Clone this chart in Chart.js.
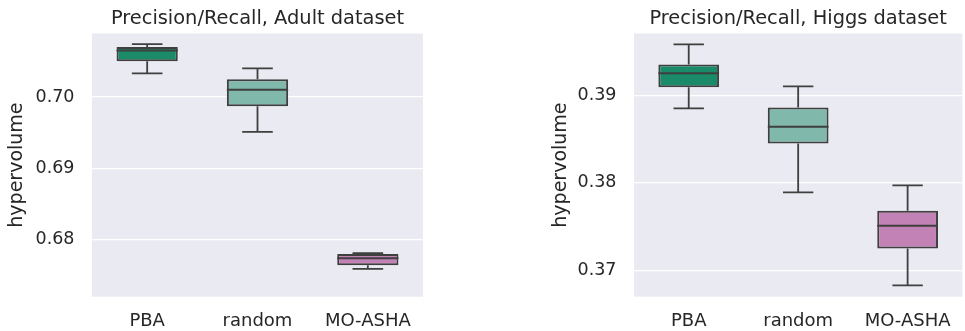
<!DOCTYPE html>
<html>
<head>
<meta charset="utf-8">
<script src="https://cdn.jsdelivr.net/npm/chart.js@4"></script>
<style>
  body { margin: 0; background: #ffffff; }
  #wrap { position: relative; width: 965px; height: 331px; }
  canvas { position: absolute; top: 0; }
  #adultChart { left: 0; }
  #higgsChart { left: 542px; }
</style>
</head>
<body>
<div id="wrap">
  <canvas id="adultChart" width="430" height="331"></canvas>
  <canvas id="higgsChart" width="423" height="331"></canvas>
</div>
<script>
const categories = ['PBA', 'random', 'MO-ASHA'];
const boxColors = ['#1a8a68', '#80b9ab', '#c282b5'];

// Adult dataset: whisker ends, quartiles and medians
const adultLow = [0.7033, 0.6951, 0.6759];
const adultQ1 = [0.7050, 0.6987, 0.6764];
const adultMedian = [0.7065, 0.7010, 0.6774];
const adultQ3 = [0.7070, 0.7025, 0.6780];
const adultHigh = [0.7074, 0.7040, 0.6781];
const adultTicks = [0.68, 0.69, 0.70];
const adultRange = [0.6720, 0.7089];

// Higgs dataset
const higgsLow = [0.3885, 0.3789, 0.3683];
const higgsQ1 = [0.3909, 0.3845, 0.3725];
const higgsMedian = [0.3925, 0.3864, 0.3751];
const higgsQ3 = [0.3935, 0.3886, 0.3768];
const higgsHigh = [0.3958, 0.3910, 0.3797];
const higgsTicks = [0.37, 0.38, 0.39];
const higgsRange = [0.3670, 0.39705];

const lineColor = '#3f3f3f';
const textColor = '#262626';
const fontFamily = '"DejaVu Sans", sans-serif';

// background panel, whiskers and median lines on top of the floating bars
const boxPlugin = {
    id: 'boxWhiskers',
    beforeDraw(chart) {
        const {ctx, chartArea} = chart;
        ctx.save();
        ctx.fillStyle = '#eaeaf2';
        ctx.fillRect(chartArea.left, chartArea.top, chartArea.right - chartArea.left, chartArea.bottom - chartArea.top);
        ctx.restore();
    },
    beforeDatasetsDraw(chart) {
        const stats = chart.options.plugins.boxWhiskers;
        const {ctx} = chart;
        const x = chart.scales.x, y = chart.scales.y;
        const bars = chart.getDatasetMeta(0).data;
        ctx.save();
        ctx.strokeStyle = lineColor;
        ctx.lineWidth = 1.8;
        stats.low.forEach((lo, i) => {
            const cx = x.getPixelForValue(i);
            const cap = bars[i].width / 4;
            const yLo = y.getPixelForValue(lo);
            const yHi = y.getPixelForValue(stats.high[i]);
            ctx.beginPath();
            ctx.moveTo(cx, yHi);
            ctx.lineTo(cx, y.getPixelForValue(stats.q3[i]));
            ctx.moveTo(cx, yLo);
            ctx.lineTo(cx, y.getPixelForValue(stats.q1[i]));
            ctx.moveTo(cx - cap, yHi);
            ctx.lineTo(cx + cap, yHi);
            ctx.moveTo(cx - cap, yLo);
            ctx.lineTo(cx + cap, yLo);
            ctx.stroke();
        });
        ctx.restore();
    },
    afterDatasetsDraw(chart) {
        const stats = chart.options.plugins.boxWhiskers;
        const {ctx} = chart;
        const x = chart.scales.x, y = chart.scales.y;
        const bars = chart.getDatasetMeta(0).data;
        ctx.save();
        ctx.strokeStyle = lineColor;
        ctx.lineWidth = 2;
        stats.median.forEach((m, i) => {
            const cx = x.getPixelForValue(i);
            const half = bars[i].width / 2;
            const ym = y.getPixelForValue(m);
            ctx.beginPath();
            ctx.moveTo(cx - half, ym);
            ctx.lineTo(cx + half, ym);
            ctx.stroke();
        });
        ctx.restore();
    }
};

function makeChart(id, title, stats, ticks, range, rightPad, titlePad) {
    const boxes = stats.q1.map((q1, i) => [q1, stats.q3[i]]);
    return new Chart(document.getElementById(id), {
        type: 'bar',
        data: {
            labels: categories,
            datasets: [{
                data: boxes,
                backgroundColor: boxColors,
                borderColor: lineColor,
                borderWidth: 2,
                borderSkipped: false,
                categoryPercentage: 1,
                barPercentage: 0.555
            }]
        },
        options: {
            responsive: false,
            animation: false,
            layout: { padding: { left: 0, right: rightPad, top: 0, bottom: 0 } },
            plugins: {
                legend: { display: false },
                tooltip: { enabled: false },
                title: {
                    display: true,
                    text: title,
                    fullSize: false,
                    color: textColor,
                    font: { family: fontFamily, size: 19.4, weight: 'normal' },
                    padding: { top: 7.5, bottom: 2.7 }
                },
                boxWhiskers: stats
            },
            scales: {
                x: {
                    grid: { display: false, drawTicks: false },
                    border: { display: false },
                    ticks: { color: textColor, padding: 14, font: { family: fontFamily, size: 18 } },
                    afterFit(scale) { scale.height = 34.3; }
                },
                y: {
                    min: range[0],
                    max: range[1],
                    grid: { color: '#ffffff', lineWidth: 1.3, drawTicks: false },
                    border: { display: false },
                    ticks: {
                        color: textColor,
                        padding: 17.5,
                        font: { family: fontFamily, size: 17.5 },
                        callback: v => v.toFixed(2)
                    },
                    afterBuildTicks(scale) {
                        scale.ticks = ticks.map(v => ({ value: v }));
                    },
                    title: {
                        display: true,
                        text: 'hypervolume',
                        color: textColor,
                        font: { family: fontFamily, size: 19 },
                        padding: { top: titlePad, bottom: 0 }
                    },
                    afterFit(scale) { scale.width = 92; }
                }
            }
        },
        plugins: [boxPlugin]
    });
}

makeChart('adultChart', 'Precision/Recall, Adult dataset',
    { low: adultLow, q1: adultQ1, median: adultMedian, q3: adultQ3, high: adultHigh },
    adultTicks, adultRange, 7, 5.6);
makeChart('higgsChart', 'Precision/Recall, Higgs dataset',
    { low: higgsLow, q1: higgsQ1, median: higgsMedian, q3: higgsQ3, high: higgsHigh },
    higgsTicks, higgsRange, 0, 8);
</script>
</body>
</html>
